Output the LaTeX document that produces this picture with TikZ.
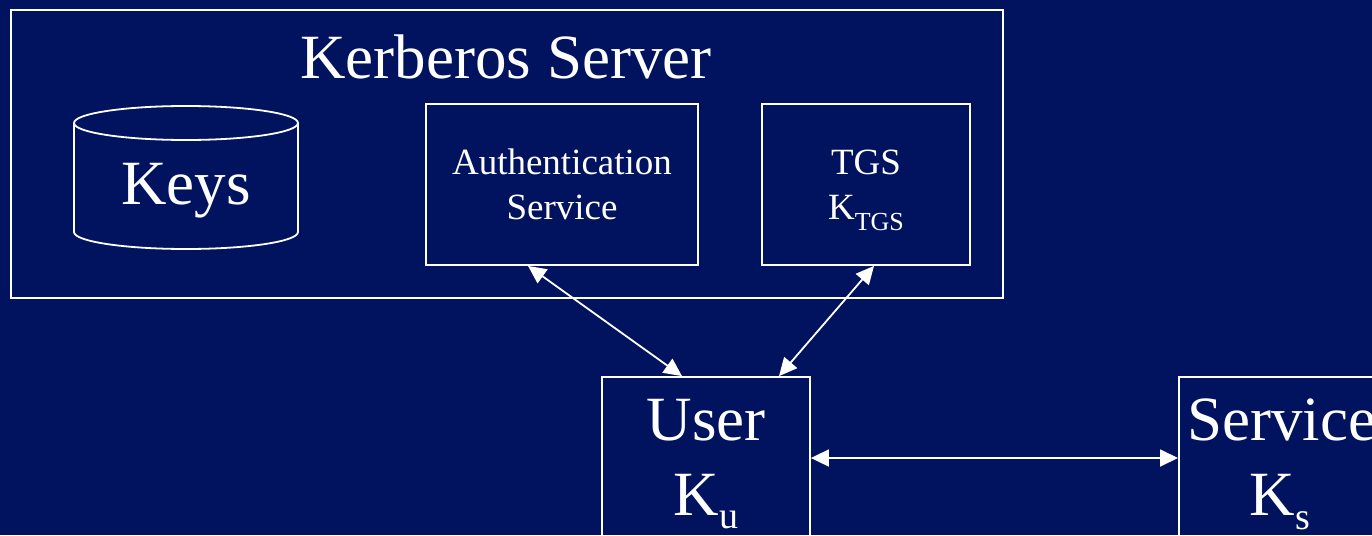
\documentclass[tikz,border=0pt]{standalone}
\usepackage{fontspec}
\setmainfont{Liberation Serif}
\usetikzlibrary{arrows.meta}
\definecolor{bg}{RGB}{1,19,94}
\newcommand\lowsub[3]{\raisebox{-#1}{\fontsize{#2}{#2}\selectfont #3}}
\tikzset{
  box/.style={draw=white, line width=1.8pt, rectangle, inner sep=0pt, text=white},
  big/.style={text=white, inner sep=0pt, anchor=base, font=\fontsize{63}{63}\selectfont},
  small/.style={font=\fontsize{37}{45}\selectfont, align=center},
  link/.style={draw=white, line width=1.8pt, {Triangle[length=18pt,width=17pt]}-{Triangle[length=18pt,width=17pt]}}
}
\begin{document}
\begin{tikzpicture}[x=1pt,y=-1pt]
\fill[bg] (0,0) rectangle (1372,535);
\useasboundingbox (0,0) rectangle (1372,535);
% Kerberos server frame
\node[box, minimum width=992pt, minimum height=288pt, anchor=north west] (ks) at (10,9) {};
\node[big] (kstitle) at (506,78) {Kerberos Server};
% Keys cylinder
\draw[white, line width=1.8pt] (74,123) -- (74,232) arc[start angle=180, end angle=360, x radius=112pt, y radius=17pt] -- (298,123);
\draw[white, line width=1.8pt] (186,123) ellipse [x radius=112pt, y radius=17pt];
\node[big] (keys) at (186,204) {Keys};
% Authentication service and TGS
\node[box, small, minimum width=272pt, minimum height=161pt] (auth) at (562,184.5) {Authentication\\Service};
\node[box, small, minimum width=208pt, minimum height=161pt, text depth=0pt] (tgs) at (866,184.5) {TGS\\K\lowsub{11pt}{26}{TGS}};
% User and Service
\node[box, minimum width=208pt, minimum height=162pt] (user) at (706,458) {};
\node[box, minimum width=260pt, minimum height=162pt, anchor=west] (service) at (1178,458) {};
\node[big] (userlbl) at (706,440) {User};
\node[big] (userkey) at (706,515) {K\lowsub{13pt}{38}{u}};
\node[big, anchor=base west] (servicelbl) at (1187,440) {Service};
\node[big] (servicekey) at (1280,515) {K\lowsub{14pt}{38}{s}};
% Connectors
\draw[link] ([xshift=-34pt]auth.south) -- ([xshift=-24pt]user.north);
\draw[link] ([xshift=8pt]tgs.south) -- ([xshift=73pt]user.north);
\draw[link] (user.east) -- (service.west);
\end{tikzpicture}
\end{document}
